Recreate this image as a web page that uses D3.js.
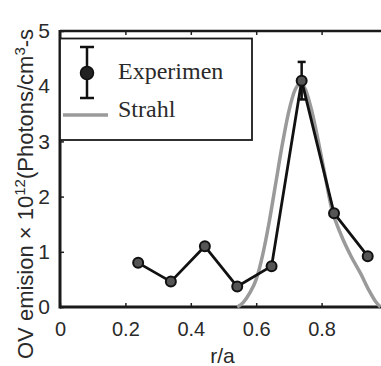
<!DOCTYPE html>
<html>
<head>
<meta charset="utf-8">
<script src="https://cdn.jsdelivr.net/npm/d3@7"></script>
<style>
  body { margin: 0; background: #fff; }
  svg { display: block; }
</style>
</head>
<body>
<script>
// measured values
const expR = [0.239, 0.339, 0.443, 0.542, 0.647, 0.739, 0.838, 0.941];
const expV = [0.80, 0.46, 1.10, 0.37, 0.74, 4.10, 1.70, 0.92];
const expErr = [0, 0, 0, 0, 0, 0.34, 0, 0];

const strahlR = [0.542, 0.56, 0.58, 0.60, 0.62, 0.64, 0.66, 0.68, 0.70, 0.72, 0.737, 0.75, 0.77, 0.79, 0.81, 0.83, 0.86, 0.89, 0.92, 0.945, 0.965, 0.98];
const strahlV = [0.0, 0.08, 0.25, 0.5, 0.95, 1.55, 2.25, 2.95, 3.55, 3.95, 4.05, 3.95, 3.55, 3.0, 2.4, 1.8, 1.3, 0.92, 0.6, 0.3, 0.1, 0.0];

const xTicks = [0, 0.2, 0.4, 0.6, 0.8];
const yTicks = [0, 1, 2, 3, 4, 5];
const legendLabels = ["Experimen", "Strahl"];

const W = 381, H = 366;
const x = d3.scaleLinear().domain([0, 1]).range([60, 387]);
const y = d3.scaleLinear().domain([0, 5]).range([307, 31]);

const svg = d3.select("body").append("svg")
    .attr("width", W).attr("height", H);

// clip the plot area (right side is cut off in the picture)
svg.append("defs").append("clipPath").attr("id", "plotClip")
    .append("rect").attr("x", 60).attr("y", 20).attr("width", W - 60).attr("height", 300);

const sansFont = "'Liberation Sans', Arial, sans-serif";
const serifFont = "'Liberation Serif', 'Times New Roman', serif";

//******** AXES */
const xAxis = svg.append("g")
    .attr("transform", "translate(0," + y(0) + ")")
    .call(d3.axisBottom(x).tickValues(xTicks).tickFormat(d => d === 0 ? "0" : d3.format(".1f")(d))
        .tickSizeInner(-4).tickSizeOuter(0).tickPadding(15));
xAxis.select(".domain").remove();
xAxis.selectAll("text").style("font", "20px " + sansFont).attr("fill", "#2a2a2a");
xAxis.selectAll("line").attr("stroke", "#222").attr("stroke-width", 1.5);

const yAxis = svg.append("g")
    .attr("transform", "translate(" + x(0) + ",0)")
    .call(d3.axisLeft(y).tickValues(yTicks).tickFormat(d3.format("d"))
        .tickSizeInner(-4).tickSizeOuter(0).tickPadding(10));
yAxis.select(".domain").remove();
yAxis.selectAll("text").style("font", "21px " + sansFont).attr("fill", "#2a2a2a");
yAxis.selectAll("line").attr("stroke", "#222").attr("stroke-width", 1.5);

// top mirror ticks
const topAxis = svg.append("g")
    .attr("transform", "translate(0," + y(5) + ")")
    .call(d3.axisTop(x).tickValues(xTicks.slice(1)).tickFormat("")
        .tickSizeInner(-4).tickSizeOuter(0));
topAxis.select(".domain").remove();
topAxis.selectAll("line").attr("stroke", "#222").attr("stroke-width", 1.5);

// frame lines
const frame = svg.append("g").attr("stroke", "#1a1a1a").attr("fill", "none");
frame.append("line").attr("x1", x(0)).attr("x2", W).attr("y1", y(0)).attr("y2", y(0)).attr("stroke-width", 3);
frame.append("line").attr("x1", x(0)).attr("x2", W).attr("y1", y(5)).attr("y2", y(5)).attr("stroke-width", 2.5);
frame.append("line").attr("x1", x(0)).attr("x2", x(0)).attr("y1", y(5) - 1).attr("y2", y(0) + 1.5).attr("stroke-width", 3);

//******** LABELS */
svg.append("text")
    .attr("x", x(0.5) - 1).attr("y", 363)
    .attr("text-anchor", "middle")
    .style("font", "21px " + sansFont).attr("fill", "#2a2a2a")
    .text("r/a");

const ylab = svg.append("text")
    .attr("transform", "translate(33,359) rotate(-90)")
    .attr("text-anchor", "start")
    .style("font", "22px " + sansFont).attr("fill", "#2a2a2a");
ylab.append("tspan").text("OV emision \u00d7 10");
ylab.append("tspan").attr("dy", -8).style("font-size", "15px").text("12");
ylab.append("tspan").attr("dy", 8).text("(Photons/cm");
ylab.append("tspan").attr("dy", -8).style("font-size", "15px").text("3");
ylab.append("tspan").attr("dy", 8).text("-s");

//******** DATA */
const plot = svg.append("g").attr("clip-path", "url(#plotClip)");

const strahl = strahlR.map((r, i) => [r, strahlV[i]]);
plot.append("path")
    .datum(strahl)
    .attr("fill", "none")
    .attr("stroke", "#9a9a9a")
    .attr("stroke-width", 3.5)
    .attr("d", d3.line().x(d => x(d[0])).y(d => y(d[1])).curve(d3.curveMonotoneX));

const exp = expR.map((r, i) => ({ r: r, v: expV[i], e: expErr[i] }));
plot.append("path")
    .datum(exp)
    .attr("fill", "none")
    .attr("stroke", "#111")
    .attr("stroke-width", 2.8)
    .attr("stroke-linejoin", "round")
    .attr("d", d3.line().x(d => x(d.r)).y(d => y(d.v)));

const errs = plot.append("g").attr("stroke", "#111").attr("stroke-width", 2.5);
exp.filter(d => d.e > 0).forEach(d => {
    errs.append("line").attr("x1", x(d.r)).attr("x2", x(d.r)).attr("y1", y(d.v + d.e)).attr("y2", y(d.v - d.e));
    errs.append("line").attr("x1", x(d.r) - 4).attr("x2", x(d.r) + 4).attr("y1", y(d.v + d.e)).attr("y2", y(d.v + d.e));
    errs.append("line").attr("x1", x(d.r) - 4).attr("x2", x(d.r) + 4).attr("y1", y(d.v - d.e)).attr("y2", y(d.v - d.e));
});

plot.append("g").selectAll("circle")
    .data(exp)
    .join("circle")
    .attr("cx", d => x(d.r))
    .attr("cy", d => y(d.v))
    .attr("r", 5)
    .attr("fill", "#555")
    .attr("stroke", "#111")
    .attr("stroke-width", 2);

//******** LEGEND */
const legend = svg.append("g");
legend.append("rect")
    .attr("x", 60).attr("y", 38.5).attr("width", 192).attr("height", 101.5)
    .attr("fill", "#fff").attr("stroke", "#1a1a1a").attr("stroke-width", 1.8);

const lg = legend.append("g").attr("stroke", "#111").attr("stroke-width", 2.5);
lg.append("line").attr("x1", 87).attr("x2", 87).attr("y1", 47).attr("y2", 98);
lg.append("line").attr("x1", 80).attr("x2", 94).attr("y1", 47).attr("y2", 47);
lg.append("line").attr("x1", 80).attr("x2", 94).attr("y1", 98).attr("y2", 98);
legend.append("circle").attr("cx", 87).attr("cy", 73).attr("r", 6.5).attr("fill", "#222").attr("stroke", "#111").attr("stroke-width", 1.5);
legend.append("line").attr("x1", 63).attr("x2", 108).attr("y1", 115).attr("y2", 115)
    .attr("stroke", "#9a9a9a").attr("stroke-width", 3.5);

legend.selectAll("text.lbl")
    .data(legendLabels)
    .join("text")
    .attr("class", "lbl")
    .attr("x", 118)
    .attr("y", (d, i) => i === 0 ? 78.5 : 116.5)
    .style("font", "24px " + serifFont)
    .attr("fill", "#2a2a2a")
    .text(d => d);
</script>
</body>
</html>
